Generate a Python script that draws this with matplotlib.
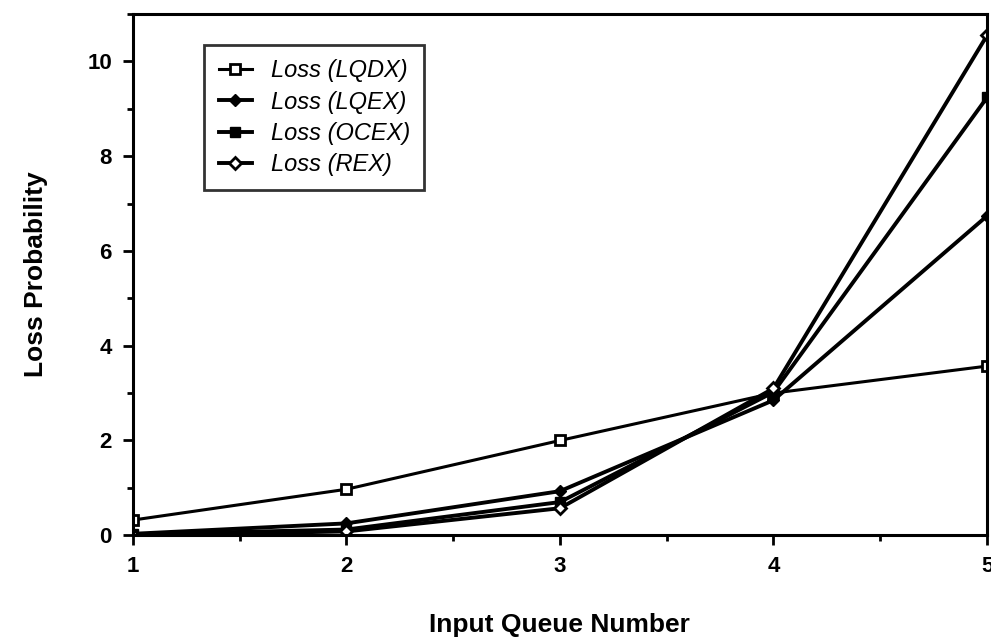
import matplotlib.pyplot as plt
import numpy as np
from matplotlib.ticker import MultipleLocator

plt.rcParams['font.family'] = ['Liberation Sans', 'DejaVu Sans']

queues = [1, 2, 3, 4, 5]
loss_lqdx = [0.32, 0.97, 2.0, 3.0, 3.57]
loss_lqex = [0.03, 0.25, 0.93, 2.85, 6.74]
loss_ocex = [0.02, 0.12, 0.70, 3.02, 9.24]
loss_rex = [0.0, 0.08, 0.57, 3.1, 10.55]

fig = plt.figure(figsize=(9.91, 6.41), dpi=100)
ax = fig.add_axes([0.134, 0.165, 0.862, 0.813])

ax.plot(queues, loss_lqdx, color='black', lw=2.2, marker='s', ms=7,
        mfc='white', mec='black', mew=2, label='Loss (LQDX)')
ax.plot(queues, loss_lqex, color='black', lw=2.8, marker='D', ms=6,
        mfc='black', mec='black', label='Loss (LQEX)')
ax.plot(queues, loss_ocex, color='black', lw=2.8, marker='s', ms=7,
        mfc='black', mec='black', label='Loss (OCEX)')
ax.plot(queues, loss_rex, color='black', lw=2.8, marker='D', ms=6,
        mfc='white', mec='black', mew=2, label='Loss (REX)')

ax.set_xlim(1, 5)
ax.set_ylim(0, 11)
ax.set_xticks([1, 2, 3, 4, 5])
ax.set_yticks([0, 2, 4, 6, 8, 10])
ax.xaxis.set_minor_locator(MultipleLocator(0.5))
ax.yaxis.set_minor_locator(MultipleLocator(1))
ax.tick_params(which='both', direction='out', width=2, color='black')
ax.tick_params(which='major', length=7, labelsize=16, pad=8)
ax.tick_params(which='minor', length=4)
for lab in ax.get_xticklabels() + ax.get_yticklabels():
    lab.set_fontweight('bold')
for sp in ax.spines.values():
    sp.set_linewidth(2.2)

ax.set_xlabel('Input Queue Number', fontsize=19, fontweight='bold', labelpad=26)
ax.set_ylabel('Loss Probability', fontsize=19, fontweight='bold', labelpad=28)

leg = ax.legend(loc='upper left', bbox_to_anchor=(0.07, 0.963),
                prop={'style': 'italic', 'size': 17}, frameon=True, fancybox=False,
                edgecolor='black', handlelength=1.4, borderpad=0.6, labelspacing=0.35)
leg.get_frame().set_linewidth(2)

fig.savefig('out.png', dpi=100)
